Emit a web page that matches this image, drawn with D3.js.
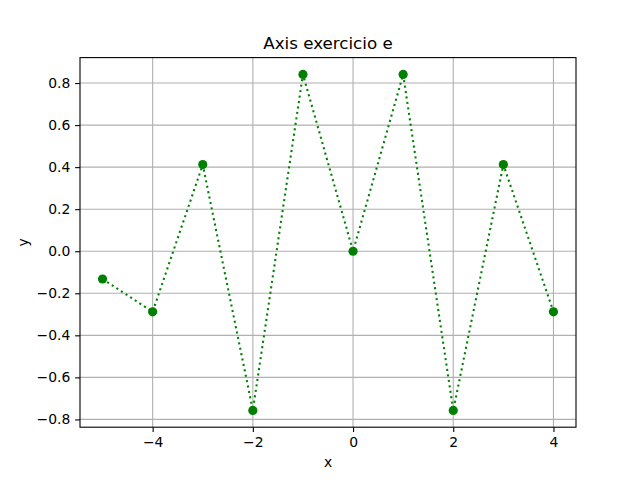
<!DOCTYPE html>
<html><head><meta charset="utf-8">
<script src="https://cdn.jsdelivr.net/npm/d3@7"></script>
<style>body{margin:0;background:#fff}svg{display:block}text{font-family:"DejaVu Sans",sans-serif;fill:#000}</style>
</head><body>
<script>
const xs = [-5, -4, -3, -2, -1, 0, 1, 2, 3, 4];
const ys = [-0.132, -0.288, 0.412, -0.757, 0.841, 0.0, 0.841, -0.757, 0.412, -0.288];
const xTicks = [-4, -2, 0, 2, 4];
const yTicks = [-0.8, -0.6, -0.4, -0.2, 0.0, 0.2, 0.4, 0.6, 0.8];
const title = "Axis exercicio e";

const W = 640, H = 480, L = 80, R = 576, T = 57.6, B = 427.2;
const svg = d3.select("body").append("svg").attr("width", W).attr("height", H);
const x = d3.scaleLinear().domain([-5.45, 4.45]).range([L, R]);
const y = d3.scaleLinear().domain([-0.837, 0.921]).range([B, T]);
const fmtX = v => (v < 0 ? "\u2212" : "") + Math.abs(v);
const fmtY = v => (v < 0 ? "\u2212" : "") + Math.abs(v).toFixed(1);

// grid
svg.append("g").selectAll("line").data(xTicks).join("line")
  .attr("x1", d => x(d)).attr("x2", d => x(d)).attr("y1", T).attr("y2", B)
  .attr("stroke", "#b0b0b0").attr("stroke-width", 1.1);
svg.append("g").selectAll("line").data(yTicks).join("line")
  .attr("y1", d => y(d)).attr("y2", d => y(d)).attr("x1", L).attr("x2", R)
  .attr("stroke", "#b0b0b0").attr("stroke-width", 1.1);

// axes
const xAxis = d3.axisBottom(x).tickValues(xTicks).tickSize(4.86).tickPadding(4.9).tickFormat(fmtX);
const yAxis = d3.axisLeft(y).tickValues(yTicks).tickSize(4.86).tickPadding(4.9).tickFormat(fmtY);
const gx = svg.append("g").attr("transform", `translate(0,${B})`).call(xAxis);
const gy = svg.append("g").attr("transform", `translate(${L},0)`).call(yAxis);
[gx, gy].forEach(g => {
  g.select(".domain").remove();
  g.selectAll(".tick line").attr("stroke", "#000").attr("stroke-width", 1.1);
  g.selectAll(".tick text").attr("font-size", "13.9px").attr("font-family", "DejaVu Sans");
});

// line + markers
const line = d3.line().x((d, i) => x(xs[i])).y(d => y(d));
svg.append("path").datum(ys).attr("d", line).attr("fill", "none")
  .attr("stroke", "#008000").attr("stroke-width", 2.08).attr("stroke-dasharray", "2.08,3.43");
svg.append("g").selectAll("circle").data(ys).join("circle")
  .attr("cx", (d, i) => x(xs[i])).attr("cy", d => y(d)).attr("r", 4.6).attr("fill", "#008000");

// spines
svg.append("rect").attr("x", L).attr("y", T).attr("width", R - L).attr("height", B - T)
  .attr("fill", "none").attr("stroke", "#000").attr("stroke-width", 1.1);

// labels
svg.append("text").attr("x", (L + R) / 2).attr("y", T - 8.3).attr("text-anchor", "middle")
  .attr("font-size", "16.7px").text(title);
svg.append("text").attr("x", (L + R) / 2).attr("y", 467).attr("text-anchor", "middle")
  .attr("font-size", "13.9px").text("x");
svg.append("text").attr("transform", `translate(28,${(T + B) / 2}) rotate(-90)`).attr("text-anchor", "middle")
  .attr("font-size", "13.9px").text("y");
</script>
</body></html>
